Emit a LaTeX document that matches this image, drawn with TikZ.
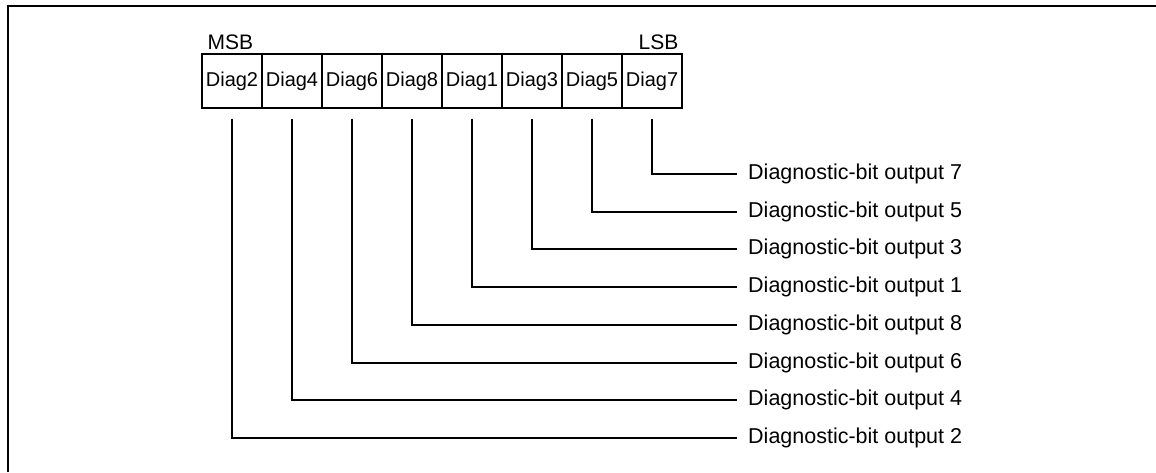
\documentclass[tikz,border=0pt]{standalone}
\usepackage{fontspec}
\setmainfont{Liberation Sans}
\tikzset{
	cellbox/.style={draw, line width=1.1pt, minimum width=60pt, minimum height=54pt, inner sep=0pt, font=\fontsize{20}{24}\selectfont},
	outlabel/.style={anchor=west, inner xsep=11pt, inner ysep=0pt, font=\fontsize{21.5}{26}\selectfont},
	endlabel/.style={inner sep=0pt, font=\fontsize{21}{25}\selectfont},
	wire/.style={line width=2pt},
	frame/.style={line width=2.4pt}
}
\begin{document}
\begin{tikzpicture}[x=1pt,y=-1pt]
\useasboundingbox (0,0) rectangle (1156,472);
\draw[frame] (8,472) -- (8,6) -- (1156,6);
% register cells, MSB first
\foreach \n [count=\i from 0] in {2,4,6,8,1,3,5,7}
{
	\node[cellbox] (d\n) at (232+60*\i,81) {Diag\n};
	\node[outlabel] (o\n) at (737,174+37.7*7-37.7*\i) {Diagnostic-bit output \n};
	\draw[wire] ([yshift=-10pt]d\n.south) |- (o\n.west);
}
\node[endlabel, anchor=base west] (msb) at ([xshift=6pt,yshift=4pt]d2.north west) {MSB};
\node[endlabel, anchor=base east] (lsb) at ([xshift=-4pt,yshift=4pt]d7.north east) {LSB};
\end{tikzpicture}
\end{document}
